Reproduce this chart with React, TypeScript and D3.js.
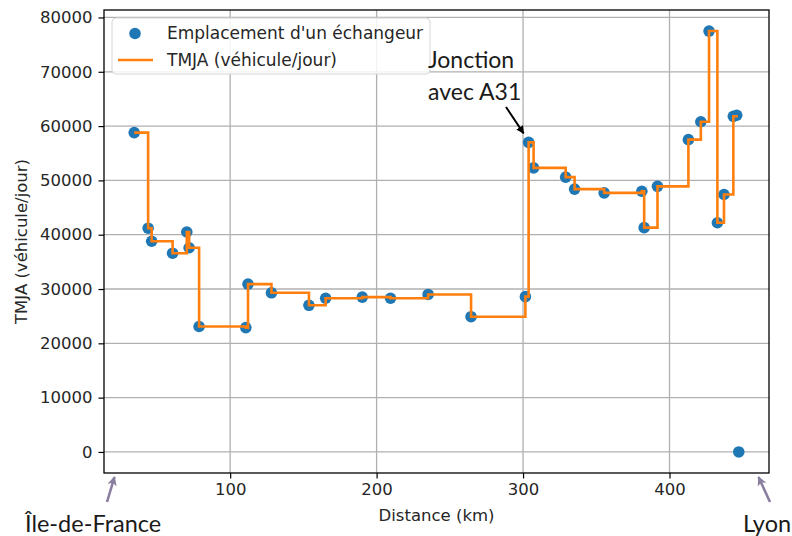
import { useRef, useEffect } from "react";
import * as d3 from "d3";

// distance along the motorway (km) and traffic at each interchange
const distance = [
  34.5, 44.0, 46.4, 60.7, 70.4, 72.0, 78.8, 110.7, 112.2, 128.2, 153.8, 165.2,
  190.2, 209.5, 235.2, 264.5, 301.6, 303.8, 307.2, 329.1, 335.2, 355.4, 381.1,
  382.7, 391.8, 412.9, 421.4, 427.0, 432.7, 437.2, 443.6, 445.9, 447.3,
];
const tmja = [
  58800, 41200, 38800, 36600, 40500, 37600, 23100, 22900, 30900, 29300, 27000,
  28300, 28500, 28300, 29000, 24900, 28600, 57000, 52300, 50600, 48400, 47700,
  48000, 41300, 48900, 57500, 60800, 77500, 42200, 47400, 61800, 62000, 0,
];
const xTicks = [100, 200, 300, 400];
const yTicks = [0, 10000, 20000, 30000, 40000, 50000, 60000, 70000, 80000];
const legendLabels = ["Emplacement d'un échangeur", "TMJA (véhicule/jour)"];

const W = 792;
const H = 536;
const M = { top: 10, right: 23, bottom: 63, left: 104 };
const IW = W - M.left - M.right;
const IH = H - M.top - M.bottom;

const FONT = "DejaVu Sans, sans-serif";
const NOTE_FONT = "Lato, sans-serif";

export default function App() {
  const svgRef = useRef<SVGSVGElement>(null);

  useEffect(() => {
    if (!svgRef.current) return;
    const svg = d3.select(svgRef.current);
    svg.selectAll("*").remove();

    const pts = distance.map((d, i) => ({ x: d, y: tmja[i] }));

    // matplotlib-style 5% margins
    const [x0, x1] = d3.extent(distance) as [number, number];
    const [y0, y1] = d3.extent(tmja) as [number, number];
    const px = (x1 - x0) * 0.05;
    const py = (y1 - y0) * 0.05;
    const x = d3.scaleLinear().domain([x0 - px, x1 + px]).range([0, IW]);
    const y = d3.scaleLinear().domain([y0 - py, y1 + py]).range([IH, 0]);

    const defs = svg.append("defs");
    defs.append("marker")
      .attr("id", "blackHead")
      .attr("viewBox", "0 0 10 10")
      .attr("refX", 9).attr("refY", 5)
      .attr("markerWidth", 4).attr("markerHeight", 4)
      .attr("markerUnits", "strokeWidth")
      .attr("orient", "auto")
      .append("path").attr("d", "M0,0 L10,5 L0,10 z").attr("fill", "#000");
    defs.append("marker")
      .attr("id", "greyHead")
      .attr("viewBox", "0 0 10 10")
      .attr("refX", 9).attr("refY", 5)
      .attr("markerWidth", 3.6).attr("markerHeight", 3.6)
      .attr("markerUnits", "strokeWidth")
      .attr("orient", "auto")
      .append("path").attr("d", "M0,0 L10,5 L0,10 L2.5,5 z").attr("fill", "#8b7fa0");

    svg.append("rect").attr("width", W).attr("height", H).attr("fill", "#fff");

    const g = svg.append("g").attr("transform", `translate(${M.left},${M.top})`);

    // grid
    g.append("g").selectAll("line")
      .data(xTicks).join("line")
      .attr("x1", d => x(d)).attr("x2", d => x(d))
      .attr("y1", 0).attr("y2", IH)
      .attr("stroke", "#b0b0b0").attr("stroke-width", 1.3);
    g.append("g").selectAll("line")
      .data(yTicks).join("line")
      .attr("x1", 0).attr("x2", IW)
      .attr("y1", d => y(d)).attr("y2", d => y(d))
      .attr("stroke", "#b0b0b0").attr("stroke-width", 1.3);

    // axes
    const xAxis = g.append("g")
      .attr("transform", `translate(0,${IH})`)
      .call(d3.axisBottom(x).tickValues(xTicks).tickSize(5.5).tickPadding(5).tickFormat(d3.format("d")));
    const yAxis = g.append("g")
      .call(d3.axisLeft(y).tickValues(yTicks).tickSize(5.5).tickPadding(6).tickFormat(d3.format("d")));
    [xAxis, yAxis].forEach(a => {
      a.select(".domain").remove();
      a.selectAll(".tick line").attr("stroke", "#000").attr("stroke-width", 1.2);
      a.selectAll(".tick text")
        .attr("fill", "#262626")
        .attr("font-family", FONT)
        .attr("font-size", 16.5);
    });

    // scatter first, step line on top
    g.append("g").selectAll("circle")
      .data(pts).join("circle")
      .attr("cx", d => x(d.x)).attr("cy", d => y(d.y))
      .attr("r", 5.8)
      .attr("fill", "#1f77b4");

    const line = d3.line<{ x: number; y: number }>()
      .x(d => x(d.x)).y(d => y(d.y))
      .curve(d3.curveStepAfter);
    g.append("path")
      .datum(pts.slice(0, -1))
      .attr("d", line)
      .attr("fill", "none")
      .attr("stroke", "#ff7f0e")
      .attr("stroke-width", 2.6);

    // frame
    g.append("rect")
      .attr("width", IW).attr("height", IH)
      .attr("fill", "none").attr("stroke", "#000").attr("stroke-width", 1.3);

    // legend
    const lg = g.append("g").attr("transform", "translate(8,8)");
    lg.append("rect")
      .attr("width", 318).attr("height", 56).attr("rx", 4)
      .attr("fill", "#fff").attr("fill-opacity", 0.85)
      .attr("stroke", "#d6d6d6");
    lg.append("circle").attr("cx", 23).attr("cy", 15.5).attr("r", 5.8).attr("fill", "#1f77b4");
    lg.append("line")
      .attr("x1", 6).attr("x2", 41).attr("y1", 42).attr("y2", 42)
      .attr("stroke", "#ff7f0e").attr("stroke-width", 2.6);
    lg.selectAll("text.lbl")
      .data(legendLabels).join("text")
      .attr("class", "lbl")
      .attr("x", 55).attr("y", (_, i) => 21 + i * 26.5)
      .attr("fill", "#262626")
      .attr("font-family", FONT).attr("font-size", 17)
      .text(d => d);

    // axis titles
    svg.append("text")
      .attr("x", M.left + IW / 2).attr("y", 521)
      .attr("text-anchor", "middle")
      .attr("fill", "#262626").attr("font-family", FONT).attr("font-size", 16.5)
      .text("Distance (km)");
    svg.append("text")
      .attr("transform", `translate(27,${M.top + IH / 2}) rotate(-90)`)
      .attr("text-anchor", "middle")
      .attr("fill", "#262626").attr("font-family", FONT).attr("font-size", 16.5)
      .text("TMJA (véhicule/jour)");

    // annotation: junction with A31
    const jx = x(distance[17]) + M.left;
    const jy = y(tmja[17]) + M.top;
    svg.append("text")
      .attr("x", 428).attr("y", 68)
      .attr("fill", "#1a1a1a").attr("font-family", NOTE_FONT).attr("font-size", 23)
      .text("Jonction");
    svg.append("text")
      .attr("x", 428).attr("y", 100)
      .attr("fill", "#1a1a1a").attr("font-family", NOTE_FONT).attr("font-size", 23)
      .text("avec A31");
    svg.append("line")
      .attr("x1", 506).attr("y1", 107)
      .attr("x2", jx - 5).attr("y2", jy - 9)
      .attr("stroke", "#000").attr("stroke-width", 2)
      .attr("marker-end", "url(#blackHead)");

    // ends of the motorway
    svg.append("line")
      .attr("x1", 107).attr("y1", 502).attr("x2", 114.5).attr("y2", 477)
      .attr("stroke", "#8b7fa0").attr("stroke-width", 2.6)
      .attr("marker-end", "url(#greyHead)");
    svg.append("line")
      .attr("x1", 770).attr("y1", 502).attr("x2", 758.5).attr("y2", 477)
      .attr("stroke", "#8b7fa0").attr("stroke-width", 2.6)
      .attr("marker-end", "url(#greyHead)");
    svg.append("text")
      .attr("x", 25).attr("y", 532)
      .attr("fill", "#1a1a1a").attr("font-family", NOTE_FONT).attr("font-size", 23.5)
      .text("Île-de-France");
    svg.append("text")
      .attr("x", 743).attr("y", 532)
      .attr("fill", "#1a1a1a").attr("font-family", NOTE_FONT).attr("font-size", 23.5)
      .text("Lyon");
  }, []);

  return (
    <div style={{ position: "fixed", left: 0, top: 0 }}>
      <svg ref={svgRef} width={W} height={H} style={{ display: "block" }} />
    </div>
  );
}
